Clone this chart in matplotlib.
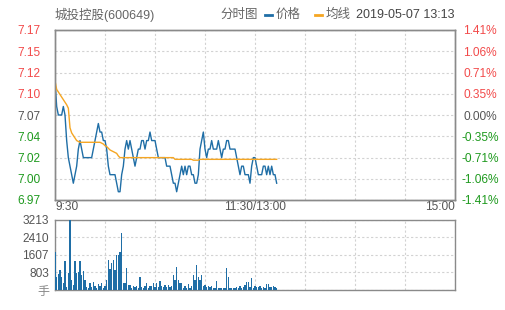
import numpy as np
import matplotlib
matplotlib.use('Agg')
import matplotlib.pyplot as plt
from matplotlib.lines import Line2D

plt.rcParams['font.family'] = ['Liberation Sans', 'Noto Sans CJK SC', 'DejaVu Sans']

# minute prices from 9:30 up to 13:13
price = [
    7.11, 7.08, 7.07, 7.07, 7.07, 7.08, 7.07, 7.04, 7.02, 7.01,
    7.00, 6.99, 7.00, 7.01, 7.03, 7.04, 7.03, 7.02, 7.02, 7.02,
    7.02, 7.02, 7.02, 7.03, 7.04, 7.05, 7.06, 7.05, 7.05, 7.04,
    7.04, 7.03, 7.01, 7.00, 7.00, 7.00, 7.00, 6.99, 6.98, 6.98,
    7.00, 7.01, 7.03, 7.04, 7.03, 7.04, 7.03, 7.02, 7.01, 7.02,
    7.03, 7.03, 7.04, 7.04, 7.03, 7.04, 7.04, 7.05, 7.04, 7.04,
    7.04, 7.03, 7.02, 7.02, 7.02, 7.02, 7.02, 7.01, 7.01, 7.01,
    7.00, 6.99, 6.99, 6.98, 6.99, 7.00, 7.01, 7.00, 7.01, 7.00,
    7.01, 7.01, 7.00, 7.00, 6.99, 6.99, 7.00, 7.03, 7.04, 7.05,
    7.03, 7.02, 7.03, 7.03, 7.04, 7.03, 7.03, 7.03, 7.04, 7.03,
    7.02, 7.03, 7.03, 7.04, 7.04, 7.03, 7.03, 7.03, 7.03, 7.02,
    7.01, 7.00, 7.01, 7.01, 7.00, 7.00, 7.00, 6.99, 7.01, 7.02,
    7.02, 7.01, 7.00, 7.00, 7.00, 7.01, 7.01, 7.00, 7.01, 7.00,
    7.01, 7.00, 7.00, 6.99,
]

avg = [
    7.110, 7.100, 7.097, 7.094, 7.091, 7.088, 7.085, 7.082, 7.078, 7.055,
    7.049, 7.046, 7.043, 7.040, 7.039, 7.038, 7.038, 7.038, 7.038, 7.038,
    7.038, 7.038, 7.038, 7.038, 7.038, 7.038, 7.038, 7.038, 7.037, 7.036,
    7.034, 7.033, 7.031, 7.029, 7.028, 7.027, 7.026, 7.025, 7.022, 7.020,
    7.020, 7.020, 7.020, 7.020, 7.020, 7.020, 7.020, 7.020, 7.020, 7.020,
    7.020, 7.020, 7.020, 7.020, 7.020, 7.020, 7.020, 7.020, 7.020, 7.020,
    7.020, 7.020, 7.020, 7.020, 7.020, 7.020, 7.020, 7.020, 7.020, 7.020,
    7.020, 7.020, 7.018, 7.018, 7.018, 7.018, 7.018, 7.018, 7.018, 7.018,
    7.018, 7.018, 7.018, 7.017, 7.017, 7.017, 7.017, 7.018, 7.018, 7.018,
    7.018, 7.018, 7.018, 7.018, 7.018, 7.018, 7.018, 7.018, 7.018, 7.018,
    7.018, 7.018, 7.018, 7.018, 7.018, 7.018, 7.018, 7.018, 7.018, 7.018,
    7.018, 7.018, 7.018, 7.018, 7.018, 7.018, 7.018, 7.018, 7.018, 7.018,
    7.018, 7.018, 7.018, 7.018, 7.018, 7.018, 7.018, 7.018, 7.018, 7.018,
    7.018, 7.018, 7.018, 7.018,
]

volume = [
    1714, 612, 734, 918, 612, 306, 1300, 153, 795, 3213,
    459, 230, 1331, 795, 841, 1300, 688, 872, 459, 122,
    76, 337, 153, 382, 184, 76, 260, 199, 306, 76,
    184, 459, 1377, 964, 1224, 1377, 918, 1607, 1607, 1729,
    2601, 306, 306, 995, 230, 230, 76, 184, 122, 184,
    100, 581, 122, 76, 184, 306, 76, 184, 184, 306,
    122, 337, 122, 413, 184, 122, 230, 122, 230, 122,
    184, 688, 459, 1071, 459, 337, 306, 76, 184, 76,
    260, 76, 184, 688, 459, 1117, 612, 459, 688, 184,
    230, 122, 184, 122, 184, 100, 76, 428, 76, 100,
    76, 100, 76, 995, 581, 76, 76, 76, 76, 122,
    76, 184, 76, 122, 230, 352, 352, 153, 535, 76,
    184, 122, 122, 184, 76, 122, 76, 275, 275, 122,
    122, 184, 122, 76,
]

prev_close = 7.07
pct_limit = 0.0141
price_labels = ['7.17', '7.15', '7.12', '7.10', '7.07', '7.04', '7.02', '7.00', '6.97']
pct_labels = ['1.41%', '1.06%', '0.71%', '0.35%', '0.00%', '-0.35%', '-0.71%', '-1.06%', '-1.41%']
vol_ticks = [0, 803, 1607, 2410, 3213]
vol_labels = ['手', '803', '1607', '2410', '3213']
time_labels = ['9:30', '11:30/13:00', '15:00']

BLUE = '#1f6ea6'
ORANGE = '#f5a623'
RED = '#f24a4a'
GREEN = '#1f9a1f'
GREY = '#555555'
GRID = '#d2d2d2'
FRAME = '#8a8a8a'

W, H = 505, 310
fig = plt.figure(figsize=(W / 100, H / 100), dpi=100)
ax = fig.add_axes([55 / W, (H - 200) / H, 400 / W, 170 / H])
axv = fig.add_axes([55 / W, (H - 290) / H, 400 / W, 70.5 / H])

minutes = np.arange(len(price))

# price panel
ax.plot(minutes, price, color=BLUE, lw=1.0, zorder=3)
ax.plot(minutes, avg, color=ORANGE, lw=1.0, zorder=3)
lo, hi = prev_close * (1 - pct_limit), prev_close * (1 + pct_limit)
ax.set_xlim(0, 240)
ax.set_ylim(lo, hi)
ticks = np.linspace(hi, lo, 9)
ax.set_xticks(np.arange(0, 241, 30))
ax.set_xticklabels([])
ax.set_yticks(ticks)
ax.set_yticklabels(price_labels, fontsize=8.6)
ax.grid(True, ls=(0, (2, 2)), color=GRID, lw=0.8)
ax.tick_params(length=0, pad=10.8)

def label_color(i):
    if i < 4:
        return RED
    if i == 4:
        return GREY
    return GREEN

for i, t in enumerate(ax.get_yticklabels()):
    t.set_color(label_color(i))

axr = ax.twinx()
axr.set_ylim(lo, hi)
axr.set_yticks(ticks)
axr.set_yticklabels(pct_labels, fontsize=8.6)
axr.tick_params(length=0, pad=18)
for i, t in enumerate(axr.get_yticklabels()):
    t.set_color(label_color(i))
    t.set_horizontalalignment('center')

for a in (ax, axr):
    for s in a.spines.values():
        s.set_color(FRAME)
        s.set_linewidth(1.0)

ax.text(0, -0.041, time_labels[0], transform=ax.get_xaxis_transform(),
        ha='left', va='center', fontsize=8.6, color=GREY)
ax.text(120, -0.041, time_labels[1], transform=ax.get_xaxis_transform(),
        ha='center', va='center', fontsize=8.6, color=GREY)
ax.text(240, -0.041, time_labels[2], transform=ax.get_xaxis_transform(),
        ha='right', va='center', fontsize=8.6, color=GREY)

# volume panel
axv.bar(minutes, volume, width=0.7, color=BLUE, linewidth=0, zorder=3)
axv.set_xlim(0, 240)
axv.set_ylim(0, 3213)
axv.set_xticks(np.arange(0, 241, 30))
axv.set_xticklabels([])
axv.set_yticks(vol_ticks)
axv.set_yticklabels(vol_labels, fontsize=8.6, color=GREY)
axv.get_yticklabels()[0].set_color('#888888')
axv.grid(True, ls=(0, (2, 2)), color=GRID, lw=0.8)
axv.tick_params(length=0, pad=4.3)
for s in axv.spines.values():
    s.set_color(FRAME)
    s.set_linewidth(1.0)

# header
ty = 1 - 15 / H
fig.text(55 / W, ty, '城投控股(600649)', fontsize=9, color='#666666', va='center')
fig.text(220 / W, ty, '分时图', fontsize=9, color='#666666', va='center')
fig.add_artist(Line2D([265 / W, 272 / W], [ty, ty], transform=fig.transFigure, color=BLUE, lw=2))
fig.text(276 / W, ty, '价格', fontsize=9, color='#666666', va='center')
fig.add_artist(Line2D([315 / W, 322 / W], [ty, ty], transform=fig.transFigure, color=ORANGE, lw=2))
fig.text(326 / W, ty, '均线', fontsize=9, color='#666666', va='center')
fig.text(455 / W, ty, '2019-05-07 13:13', fontsize=9, color='#444444', ha='right', va='center')

fig.savefig('out.png', dpi=100)
